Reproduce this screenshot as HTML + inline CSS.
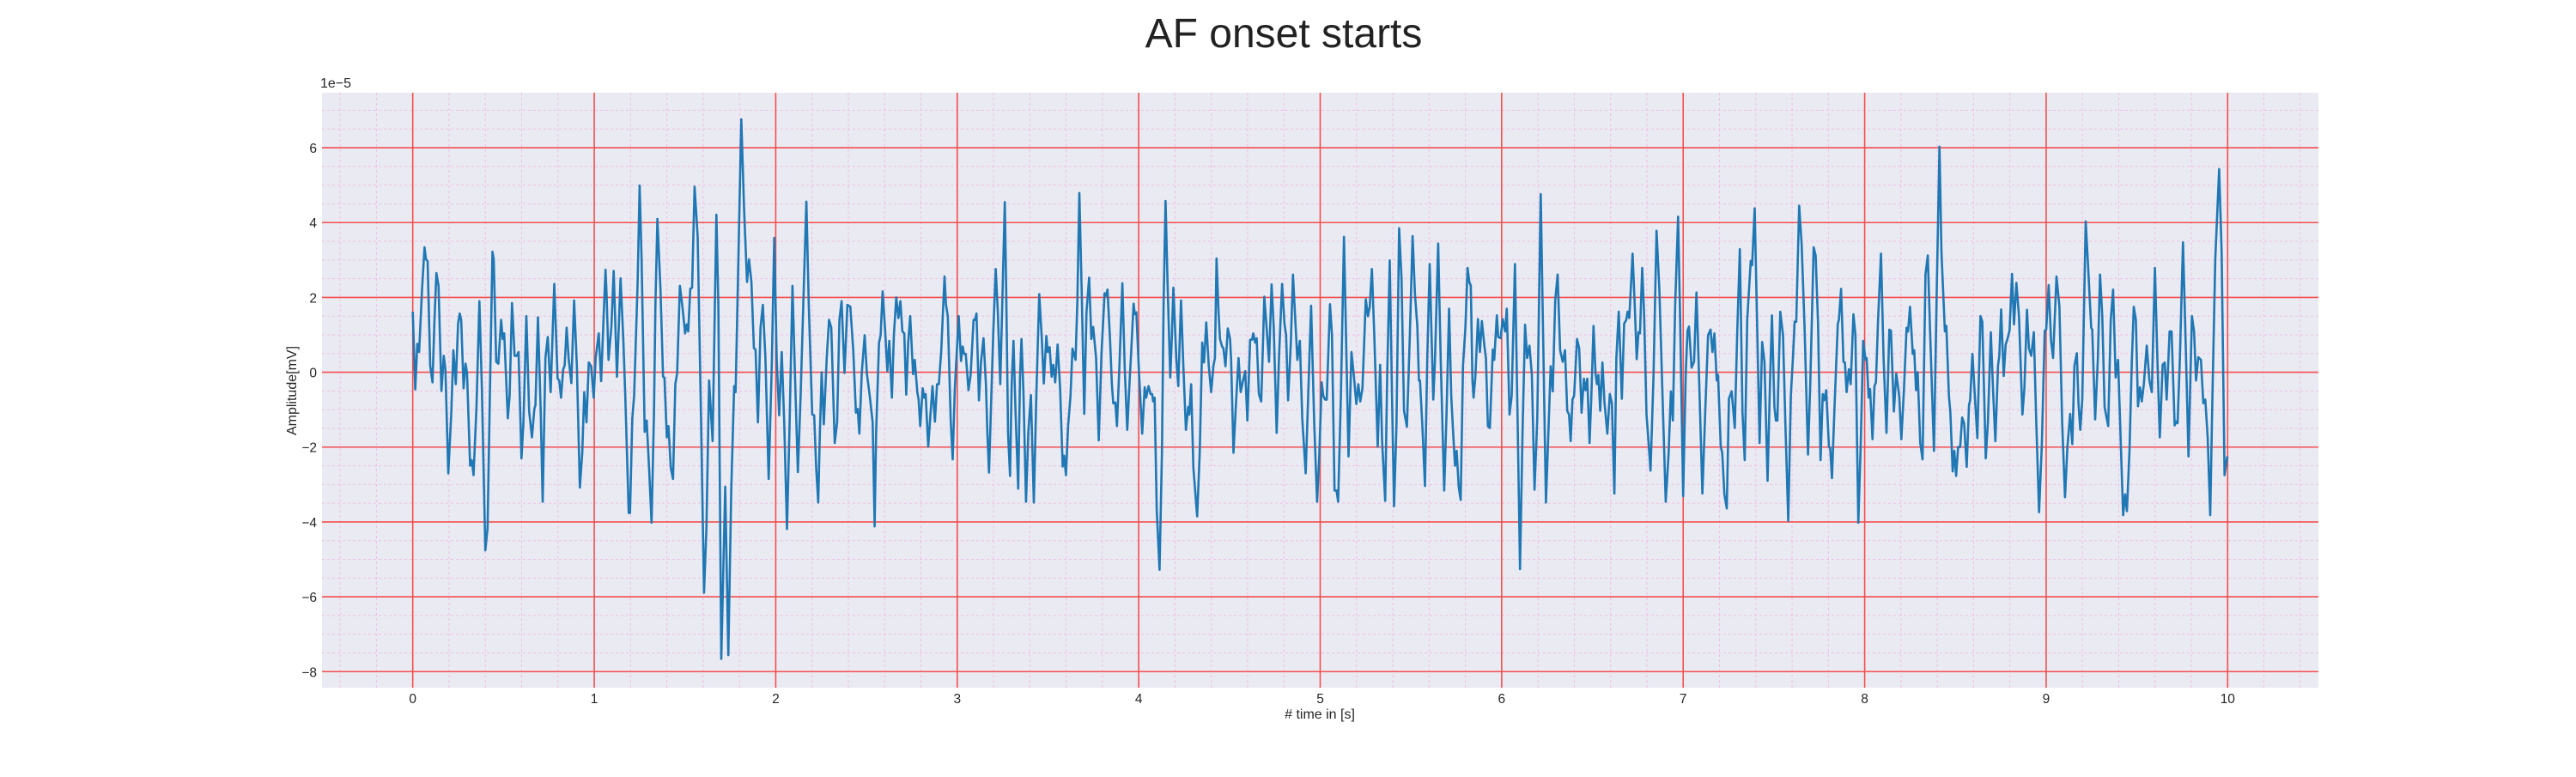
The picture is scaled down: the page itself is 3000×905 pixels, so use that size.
<!DOCTYPE html>
<html><head><meta charset="utf-8"><title>AF onset starts</title>
<style>
html,body{margin:0;padding:0;background:#fff;}
body{width:3000px;height:900px;overflow:hidden;font-family:"Liberation Sans",Arial,sans-serif;}
svg text{font-family:"Liberation Sans",Arial,sans-serif;}
</style></head>
<body>
<svg id="chart" width="3000" height="900" viewBox="0 0 3000 900" xmlns="http://www.w3.org/2000/svg">
  <text x="1495" y="55" font-size="48" text-anchor="middle" fill="#222">AF onset starts</text>
  <rect x="375" y="108" width="2325" height="693" fill="#eaeaf2"/>
  <g id="minor-grid"></g>
  <g id="major-grid"></g>
  <g id="series"></g>
  <g id="x-ticks"></g>
  <g id="y-ticks"></g>
  <text x="373" y="102" font-size="16" fill="#262626">1e−5</text>
  <text x="1537" y="837" font-size="16" text-anchor="middle" fill="#262626"># time in [s]</text>
  <text x="0" y="0" font-size="16" text-anchor="middle" fill="#262626" transform="translate(345,455) rotate(-90)">Amplitude[mV]</text>
</svg>
<script>
const xTicks = [0,1,2,3,4,5,6,7,8,9,10];
const yTicks = [-8,-6,-4,-2,0,2,4,6];
const yTickLabels = ["−8","−6","−4","−2","0","2","4","6"];
const times = [
0.000,0.014,0.025,0.035,0.051,0.065,0.073,0.082,0.096,0.109,0.120,0.130,0.142,0.158,0.171,0.180,0.196,0.212,0.224,0.237,0.250,0.259,0.267,0.280,0.291,0.299,0.316,0.325,0.335,0.351,0.367,0.381,0.400,0.412,0.425,0.439,0.446,0.460,0.472,0.487,0.496,0.504,0.524,0.534,0.547,0.561,0.573,0.583,0.599,0.610,0.626,0.641,0.657,0.670,0.676,0.690,0.705,0.716,0.731,0.744,0.760,0.780,0.798,0.807,0.817,0.829,0.837,0.848,0.859,0.874,0.889,0.904,0.921,0.934,0.945,0.957,0.970,0.983,0.997,1.008,1.025,1.038,1.052,1.062,1.068,1.079,1.095,1.107,1.125,1.145,1.160,1.171,1.190,1.197,1.210,1.220,1.239,1.250,1.261,
1.278,1.289,1.302,1.316,1.329,1.337,1.348,1.365,1.379,1.387,1.400,1.409,1.422,1.434,1.447,1.457,1.472,1.487,1.501,1.510,1.518,1.529,1.539,1.553,1.570,1.589,1.605,1.618,1.633,1.652,1.673,1.684,1.700,1.722,1.739,1.755,1.771,1.779,1.795,1.810,1.826,1.842,1.853,1.866,1.880,1.889,1.902,1.916,1.929,1.943,1.961,1.978,1.992,2.005,2.019,2.033,2.047,2.062,2.076,2.092,2.107,2.122,2.137,2.152,2.169,2.182,2.201,2.212,2.223,2.234,2.243,2.253,2.265,2.281,2.294,2.306,2.325,2.338,2.351,2.363,2.379,2.395,2.411,2.427,2.442,2.452,2.461,2.474,2.490,2.502,2.518,2.534,2.545,
2.553,2.569,2.578,2.589,2.603,2.615,2.626,2.640,2.651,2.664,2.676,2.687,2.698,2.708,2.719,2.730,2.741,2.757,2.766,2.780,2.787,2.796,2.810,2.818,2.826,2.840,2.851,2.864,2.877,2.889,2.899,2.912,2.930,2.938,2.948,2.964,2.975,2.987,3.008,3.021,3.030,3.038,3.047,3.062,3.074,3.090,3.098,3.106,3.120,3.131,3.145,3.158,3.166,3.175,3.188,3.199,3.212,3.224,3.237,3.248,3.262,3.270,3.280,3.291,3.300,3.310,3.322,3.336,3.346,3.354,3.365,3.379,3.392,3.406,3.422,3.436,3.452,3.466,3.477,3.491,3.499,3.509,3.520,3.529,3.540,3.553,3.567,3.581,3.589,3.599,3.611,3.624,3.635,3.652,3.662,3.673,3.686,3.700,3.712,3.727,3.739,3.749,3.765,3.780,3.795,3.812,3.820,3.828,3.842,3.852,
3.860,3.871,3.880,3.894,3.910,3.923,3.937,3.951,3.957,3.972,3.978,3.987,4.002,4.019,4.033,4.041,4.054,4.065,4.074,4.080,4.088,4.099,4.115,4.128,4.137,4.148,4.159,4.174,4.183,4.191,4.207,4.218,4.233,4.246,4.260,4.273,4.279,4.289,4.301,4.322,4.336,4.350,4.360,4.372,4.386,4.399,4.412,4.420,4.429,4.440,4.448,4.459,4.467,4.478,4.491,4.503,4.509,4.522,4.535,4.550,4.562,4.573,4.587,4.599,4.614,4.625,4.631,4.642,4.650,4.662,4.675,4.685,4.692,4.705,4.718,4.732,4.744,4.760,4.773,4.790,4.803,4.812,4.823,4.838,4.850,4.863,4.874,4.888,4.901,4.920,4.935,4.950,4.967,4.983,4.995,5.008,5.017,5.027,5.036,5.054,5.065,5.079,5.090,5.099,5.114,5.131,5.145,
5.156,5.172,5.185,5.199,5.210,5.221,5.233,5.251,5.263,5.273,5.285,5.298,5.317,5.330,5.341,5.358,5.369,5.383,5.396,5.407,5.420,5.435,5.448,5.462,5.478,5.494,5.509,5.522,5.535,5.544,5.550,5.563,5.577,5.590,5.603,5.614,5.623,5.632,5.650,5.664,5.683,5.696,5.710,5.722,5.733,5.743,5.752,5.763,5.774,5.787,5.800,5.812,5.822,5.830,5.839,5.845,5.855,5.869,5.880,5.891,5.905,5.913,5.924,5.935,5.951,5.959,5.973,5.981,5.994,6.006,6.019,6.028,6.043,6.055,6.073,6.087,6.101,6.115,6.129,6.140,6.153,6.166,6.181,6.196,6.215,6.227,6.244,6.257,6.270,6.281,6.295,6.308,6.322,6.336,6.349,6.361,6.371,6.380,6.390,6.399,6.415,6.427,6.440,
6.453,6.462,6.472,6.484,6.494,6.506,6.517,6.525,6.533,6.543,6.555,6.566,6.582,6.596,6.607,6.621,6.632,6.645,6.662,6.675,6.686,6.694,6.703,6.721,6.733,6.744,6.754,6.762,6.774,6.785,6.798,6.806,6.820,6.836,6.853,6.869,6.885,6.904,6.920,6.932,6.943,6.956,6.972,6.983,7.000,7.014,7.024,7.032,7.046,7.060,7.073,7.085,7.106,7.121,7.137,7.151,7.161,7.172,7.185,7.192,7.207,7.215,7.227,7.240,7.252,7.267,7.284,7.298,7.312,7.327,7.339,7.353,7.372,7.380,7.394,7.409,7.421,7.435,7.448,7.465,7.478,7.489,7.503,7.511,7.519,7.535,7.550,7.563,7.579,7.593,7.606,7.614,7.623,7.639,7.653,7.669,7.688,7.700,7.719,7.730,7.743,
7.757,7.769,7.777,7.788,7.803,7.810,7.820,7.833,7.852,7.858,7.870,7.883,7.891,7.900,7.913,7.923,7.938,7.949,7.965,7.978,7.992,8.005,8.011,8.022,8.030,8.043,8.054,8.062,8.074,8.090,8.104,8.120,8.136,8.145,8.161,8.174,8.190,8.202,8.216,8.231,8.239,8.250,8.265,8.273,8.283,8.292,8.306,8.319,8.335,8.348,8.360,8.382,8.398,8.412,8.423,8.442,8.450,8.464,8.472,8.485,8.494,8.504,8.515,8.526,8.537,8.548,8.562,8.575,8.581,8.594,8.605,8.621,8.638,8.648,8.667,8.679,8.695,8.708,8.720,8.735,8.742,8.752,8.766,8.777,8.787,8.798,8.812,8.823,8.836,8.850,8.869,8.880,8.894,8.905,8.918,8.932,8.945,8.961,8.976,8.992,9.000,9.014,9.027,9.038,
9.057,9.073,9.088,9.104,9.117,9.132,9.144,9.156,9.169,9.178,9.188,9.199,9.218,9.230,9.248,9.254,9.270,9.285,9.297,9.309,9.322,9.342,9.356,9.369,9.383,9.396,9.412,9.424,9.435,9.445,9.459,9.472,9.483,9.494,9.506,9.517,9.527,9.538,9.554,9.569,9.582,9.599,9.614,9.626,9.642,9.653,9.664,9.680,9.691,9.708,9.716,9.724,9.737,9.754,9.768,9.784,9.803,9.815,9.826,9.838,9.853,9.866,9.877,9.890,9.904,9.916,9.932,9.953,9.967,9.983,9.998
];
const amps = [
1.62,-0.46,0.76,0.54,2.21,3.34,3.02,2.97,0.18,-0.27,1.40,2.65,2.31,-0.50,0.44,0.08,-2.70,-1.13,0.59,-0.32,1.30,1.57,1.40,-0.43,0.23,-0.02,-2.50,-2.35,-2.75,-0.93,1.90,-0.43,-4.76,-4.17,-0.63,3.22,3.02,0.28,0.23,1.40,0.89,1.04,-1.23,-0.63,1.85,0.44,0.44,0.54,-2.30,-1.34,1.50,-1.03,-1.74,-0.98,-0.88,1.47,-1.03,-3.46,0.38,0.94,-0.53,2.36,-0.17,-0.22,-0.68,0.08,0.18,1.19,0.38,-0.29,1.92,0.18,-3.08,-2.15,-0.53,-1.34,0.26,0.16,-0.68,0.38,1.04,-0.24,1.50,2.74,2.10,0.33,1.24,2.71,-0.12,2.51,0.89,-0.63,-3.76,-3.76,-1.23,-0.63,2.41,4.99,3.02,
-1.59,-1.29,-2.55,-4.02,-1.13,1.80,4.10,2.21,-0.12,-0.14,-1.74,-1.44,-2.55,-2.85,-0.32,-0.02,2.31,1.70,1.04,1.28,1.09,2.23,2.26,4.96,3.62,-1.34,-5.89,-4.17,-0.22,-1.84,4.21,1.80,-7.66,-3.06,-7.56,-3.16,-0.37,-0.53,3.22,6.76,4.33,2.41,3.02,2.41,0.64,0.61,-1.34,1.19,1.80,0.38,-2.85,0.18,3.59,0.38,-1.15,0.54,-1.34,-4.19,-1.44,2.31,-0.22,-2.67,-0.63,1.80,4.56,1.80,-1.13,-1.15,-2.55,-3.48,-1.64,0.00,-1.39,0.38,1.40,1.19,-1.89,-1.34,1.40,1.90,-0.02,1.80,1.75,0.59,-1.08,-0.98,-1.64,-0.02,0.99,-0.02,-0.63,-1.34,-4.12,
-1.64,0.79,0.99,2.16,1.09,0.03,0.84,-0.68,0.99,2.00,1.45,1.90,1.09,1.04,-0.60,0.79,1.50,-0.05,0.33,-0.53,-0.73,-1.44,-0.43,-0.68,-0.58,-1.99,-1.23,-0.37,-1.32,-0.32,-0.32,0.59,2.56,1.80,1.50,-1.29,-2.33,-0.43,1.50,0.30,0.69,0.49,0.49,-0.48,-0.07,1.40,1.40,1.57,-0.75,0.28,0.91,-0.32,-1.64,-2.68,-0.63,1.09,2.76,1.60,-0.32,1.80,4.55,2.21,-1.64,-2.77,-0.32,0.84,-1.13,-3.11,-0.12,0.89,-0.53,-3.46,-1.59,-0.61,-3.48,-0.63,2.09,0.89,-0.30,0.97,0.54,0.67,-0.12,0.20,-0.27,0.74,-0.43,-2.52,-2.23,-2.75,-1.44,-0.63,0.63,0.33,1.90,4.79,2.11,-1.11,1.60,2.53,0.89,1.21,0.38,-1.82,0.49,2.11,2.05,2.21,0.89,-0.32,
-0.83,-0.81,-1.44,0.18,2.38,0.08,-1.54,-0.12,0.38,1.83,1.55,1.60,-0.07,-1.64,-0.40,-0.68,-0.37,-0.58,-0.58,-0.78,-0.68,-3.66,-5.28,-2.15,1.80,4.58,2.41,-0.14,0.99,2.26,0.38,-0.37,1.92,0.18,-1.54,-0.93,-1.13,-0.32,-2.55,-3.85,-2.15,0.79,0.26,1.33,0.18,-0.53,0.18,0.38,3.04,1.60,0.89,0.69,0.64,0.16,1.17,0.89,0.38,-2.15,-0.93,0.38,-0.53,-0.27,0.03,-1.29,0.87,0.87,1.04,0.79,0.91,-0.58,-0.78,0.79,2.02,1.19,0.28,2.35,1.19,-1.62,0.38,2.36,1.30,0.99,-0.75,0.79,2.61,1.40,0.33,0.84,-1.23,-2.70,-0.43,1.78,-1.34,-3.46,-2.25,-0.27,-0.63,-0.73,-0.73,1.82,0.99,-3.16,-3.16,-3.46,-0.63,3.62,0.38,
-2.25,0.54,-0.07,-0.85,-0.32,-0.78,-0.43,1.95,1.50,1.75,2.76,0.99,-1.99,0.20,-1.84,-3.44,-0.12,2.99,-0.73,-3.58,-1.44,3.85,2.51,-1.03,-1.46,0.99,3.64,2.11,1.24,-0.22,-0.22,-1.44,-3.04,0.38,2.89,0.89,-0.73,0.28,3.44,0.38,-3.16,-1.13,1.70,-0.63,-1.64,-2.50,-2.10,-3.06,-3.41,0.18,1.19,2.79,2.41,2.31,-0.22,-0.68,-0.12,1.42,0.54,1.37,0.69,0.38,-1.44,-1.49,0.61,0.33,1.52,0.94,0.91,1.42,1.09,1.70,-1.13,-0.63,2.89,-1.13,-5.26,-1.54,1.27,0.38,0.71,-0.07,-3.14,-1.23,4.76,1.40,-3.48,-1.64,0.16,-0.51,1.92,2.61,0.59,0.28,0.59,-1.03,-1.13,-1.84,-0.73,-0.63,0.89,0.64,-1.08,
-0.17,-0.48,-0.17,-1.89,-0.63,1.24,-0.02,-0.32,-0.07,-1.03,0.26,-0.78,-1.64,-0.58,-0.83,-3.24,0.38,1.62,-0.71,1.30,1.40,1.62,1.45,3.17,1.80,0.35,1.07,1.04,2.79,1.50,-1.13,-1.64,-2.63,-0.17,3.78,2.21,-0.43,-3.46,-2.15,-0.51,-1.29,1.80,4.16,1.50,-3.31,-0.02,1.11,1.22,0.12,0.28,2.13,0.28,-3.24,-1.13,0.99,1.14,0.54,1.04,-0.22,-0.07,-1.99,-2.15,-3.26,-3.64,-0.71,-0.51,-1.49,1.09,3.29,-1.08,-2.35,1.40,2.97,2.86,4.38,0.89,-1.89,0.81,0.28,-2.90,-0.32,1.52,-0.93,-1.29,-1.29,1.62,0.99,-1.34,-3.97,-0.63,0.49,1.35,1.35,4.45,3.42,1.19,-2.20,-0.32,3.34,3.12,1.30,
-2.35,-0.58,-0.75,-0.48,-2.00,-2.02,-2.83,-1.03,1.30,1.40,2.23,0.28,0.26,-0.53,0.08,-0.32,1.55,0.99,-4.02,-2.00,0.84,0.33,0.38,-0.68,-0.45,-1.79,-0.37,-0.27,1.40,3.17,0.38,-1.62,1.14,1.11,-1.05,-0.04,-0.63,-1.79,-0.53,1.19,1.09,1.75,0.49,0.59,-0.48,0.00,-1.89,-2.33,2.61,3.12,1.14,-2.10,2.41,6.03,3.22,1.09,1.24,-0.63,-1.08,-2.65,-2.10,-2.77,-2.00,-2.00,-1.21,-1.36,-2.53,-0.88,-0.75,0.49,-0.48,-1.76,1.50,1.35,-2.30,-1.34,1.07,-0.53,-1.84,0.18,0.44,1.68,-0.10,0.74,0.89,1.11,2.63,1.28,2.39,1.50,-1.13,-0.43,1.67,0.64,0.44,1.07,-1.23,-3.74,-1.94,1.11,1.14,2.33,0.84,0.38,
2.56,1.75,-1.34,-3.34,-2.00,-1.11,-1.92,0.18,0.51,-0.83,-1.54,-0.73,4.03,2.91,1.19,1.14,-1.26,0.38,2.61,1.50,-0.93,-1.44,1.40,2.21,-0.14,0.33,-2.00,-3.82,-3.26,-3.71,-2.10,0.28,1.75,1.40,-0.91,-0.40,-0.78,-0.32,0.71,-0.22,-0.53,2.79,0.18,-1.74,0.20,0.26,-0.73,1.09,1.09,-1.42,-1.32,-1.36,0.38,3.47,0.89,-2.25,1.50,1.09,-0.22,0.40,0.33,-0.83,-0.73,-1.76,-3.82,-0.63,3.02,5.43,3.22,-2.75,-2.25
];

const NS = "http://www.w3.org/2000/svg";
const PL = 375, PR = 2700, PT = 108, PB = 801;
const XMIN = -0.5, XMAX = 10.5, YMIN = -8.43, YMAX = 7.47;
function sx(t){ return PL + (t - XMIN) / (XMAX - XMIN) * (PR - PL); }
function sy(v){ return PB - (v - YMIN) / (YMAX - YMIN) * (PB - PT); }

const minorG = document.getElementById('minor-grid');
const majorG = document.getElementById('major-grid');
const seriesG = document.getElementById('series');
const xTickG = document.getElementById('x-ticks');
const yTickG = document.getElementById('y-ticks');

function mkLine(parent, x1, y1, x2, y2, stroke, w, dash){
  const l = document.createElementNS(NS, 'line');
  l.setAttribute('x1', x1); l.setAttribute('y1', y1);
  l.setAttribute('x2', x2); l.setAttribute('y2', y2);
  l.setAttribute('stroke', stroke); l.setAttribute('stroke-width', w);
  if (dash) l.setAttribute('stroke-dasharray', dash);
  parent.appendChild(l);
  return l;
}

minorG.setAttribute('opacity', '0.75');
for (let i = -2; i <= 52; i++) {
  const t = i * 0.2;
  if (t < XMIN || t > XMAX || i % 5 === 0) continue;
  const l = mkLine(minorG, sx(t), PT, sx(t), PB, '#f0b0e0', 1, '3,3');
  
  
}
for (let i = -17; i <= 15; i++) {
  const v = i * 0.5;
  if (v < YMIN || v > YMAX || i % 4 === 0) continue;
  const l = mkLine(minorG, PL, sy(v), PR, sy(v), '#f0b0e0', 1, '3,3');
  
  
}
xTicks.forEach(function(t){
  const l = mkLine(majorG, sx(t), PT, sx(t), PB, '#f44e4e', 1.6);
  
  
  const tx = document.createElementNS(NS, 'text');
  tx.setAttribute('x', sx(t)); tx.setAttribute('y', 819);
  tx.setAttribute('font-size', '15.5'); tx.setAttribute('text-anchor', 'middle');
  tx.setAttribute('fill', '#262626');
  tx.textContent = String(t);
  
  
  xTickG.appendChild(tx);
});
yTicks.forEach(function(v, i){
  const l = mkLine(majorG, PL, sy(v), PR, sy(v), '#f44e4e', 1.6);
  
  
  const tx = document.createElementNS(NS, 'text');
  tx.setAttribute('x', 369); tx.setAttribute('y', sy(v) + 6);
  tx.setAttribute('font-size', '15.5'); tx.setAttribute('text-anchor', 'end');
  tx.setAttribute('fill', '#262626');
  tx.textContent = yTickLabels[i];
  
  
  yTickG.appendChild(tx);
});
let d = '';
for (let i = 0; i < times.length; i++) {
  d += (i === 0 ? 'M' : 'L') + sx(times[i]).toFixed(1) + ',' + sy(amps[i]).toFixed(1);
}
const path = document.createElementNS(NS, 'path');
path.setAttribute('d', d);
path.setAttribute('fill', 'none');
path.setAttribute('stroke', '#1f77b4');
path.setAttribute('stroke-width', '2.6');
path.setAttribute('stroke-linejoin', 'round');


seriesG.appendChild(path);
</script>
</body></html>
